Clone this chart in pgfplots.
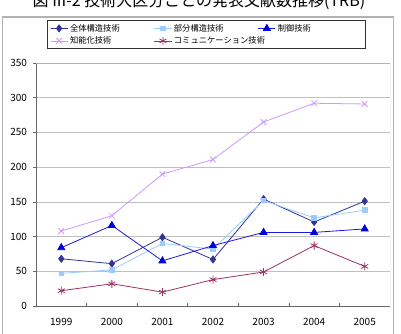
\documentclass[border=0pt]{standalone}
\usepackage{fontspec}
\setmainfont{Noto Sans CJK JP}
\usepackage{pgfplots}
\pgfplotsset{compat=1.18}
\definecolor{cA}{HTML}{333399}
\definecolor{cB}{HTML}{99CCFF}
\definecolor{cC}{HTML}{1A1AE6}
\definecolor{cCf}{HTML}{0000DD}
\definecolor{cD}{HTML}{CC99FF}
\definecolor{cE}{HTML}{993366}
\begin{document}
\begin{tikzpicture}[x=1pt,y=1pt]
\useasboundingbox (0,0) rectangle (401,334);
\clip (0,0) rectangle (401,334);
\fill[white] (0,0) rectangle (401,334);
\node[anchor=base, font=\fontsize{16}{16}\selectfont] at (199,327.5) {図 III-2 技術大区分ごとの発表文献数推移(TRB)};
\draw[gray!60, line width=1.8pt] (2.5,317) rectangle (393.5,-10);
\begin{axis}[
  at={(36pt,28pt)}, anchor=south west,
  scale only axis, width=354pt, height=243pt,
  xmin=-0.5, xmax=6.5, ymin=0, ymax=350,
  axis x line*=bottom, axis y line*=left,
  axis line style={black!60, line width=0.8pt},
  tick align=outside,
  xtick={0,...,6},
  xticklabels={1999,2000,2001,2002,2003,2004,2005},
  major x tick style={draw=none},
  minor xtick={0.5,1.5,...,5.5},
  minor tick length=3pt,
  minor x tick style={yshift=3pt, black!60, line width=0.6pt},
  ytick={0,50,...,350},
  major tick length=3pt,
  y tick style={black!60, line width=0.6pt},
  ymajorgrids,
  major grid style={black!25, line width=0.6pt},
  tick label style={font=\fontsize{10}{10}\selectfont},
  yticklabel style={xshift=-2.5pt},
  xticklabel style={yshift=-6pt},
  /pgf/number format/assume math mode=true,
  legend columns=3,
  legend style={at={(0.031,1.175)}, anchor=north west, draw=black!80,
    font=\fontsize{8.3}{9.3}\selectfont, inner ysep=1.5pt,
    /tikz/every even column/.append style={column sep=0pt}},
  legend cell align=left,
]
\addplot[cA, line width=0.8pt, mark=diamond*, mark size=3.5pt, mark options={fill=cA}]
  coordinates {(0,68) (1,61) (2,99) (3,67) (4,154) (5,121) (6,151)};
\addlegendentry{\makebox[82pt][l]{全体構造技術}}
\addplot[cB, line width=0.8pt, mark=square*, mark size=2.3pt, mark options={fill=cB}]
  coordinates {(0,47) (1,52) (2,90) (3,82) (4,152) (5,127) (6,138)};
\addlegendentry{\makebox[82pt][l]{部分構造技術}}
\addplot[cC, line width=0.8pt, mark=triangle*, mark size=4pt, mark options={fill=cCf, draw=cCf}]
  coordinates {(0,84) (1,116) (2,65) (3,87) (4,106) (5,106) (6,111)};
\addlegendentry{\makebox[82pt][l]{制御技術}}
\addplot[cD, line width=0.8pt, mark=x, mark size=4pt]
  coordinates {(0,108) (1,130) (2,190) (3,211) (4,265) (5,292) (6,291)};
\addlegendentry{\makebox[82pt][l]{知能化技術}}
\addplot[cE, line width=0.8pt, mark=asterisk, mark size=4pt]
  coordinates {(0,22) (1,32) (2,20) (3,38) (4,49) (5,87) (6,57)};
\addlegendentry{\makebox[82pt][l]{コミュニケーション技術}}
\draw[black!30, line width=0.8pt] (rel axis cs:0,1) -- (rel axis cs:1,1) -- (rel axis cs:1,0);
\end{axis}
\end{tikzpicture}
\end{document}
